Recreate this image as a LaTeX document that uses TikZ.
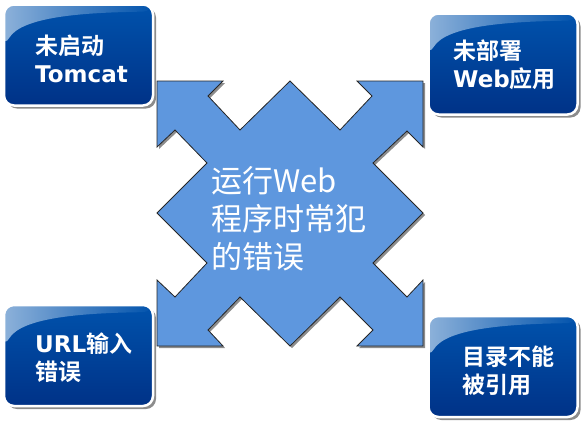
\documentclass[tikz,border=0pt]{standalone}
\usepackage{fontspec}
\newfontfamily\cjk[BoldFont={Noto Sans CJK SC Bold}]{Noto Sans CJK SC}
\newfontfamily\lat{DejaVu Sans}
\usetikzlibrary{shadows,calc}
\definecolor{boxtop}{RGB}{0,82,172}
\definecolor{boxbot}{RGB}{0,50,135}
\definecolor{arrowfill}{RGB}{94,151,222}
\tikzset{
  box/.style={rounded corners=10pt, top color=boxtop, bottom color=boxbot,
    draw=white, line width=2.5pt, minimum width=149pt, minimum height=101pt,
    inner sep=0pt,
    drop shadow={shadow xshift=3pt, shadow yshift=-3pt, fill=black!45, opacity=1},
    path picture={
      \shade[left color=white!55!boxtop, right color=boxtop]
        ($(path picture bounding box.north west)+(0,42)$)
        .. controls ($(path picture bounding box.north west)+(18,12)$)
        and ($(path picture bounding box.north west)+(80,8)$)
        .. ($(path picture bounding box.north east)+(0,7)$)
        -- (path picture bounding box.north east)
        -- (path picture bounding box.north west) -- cycle;
    }},
  boxtext/.style={anchor=west, text=white, align=left, inner sep=0pt,
    font=\fontsize{23pt}{28pt}\selectfont\bfseries},
  centertext/.style={anchor=west, text=white, align=left, inner sep=0pt,
    font=\cjk\fontsize{31pt}{38pt}\selectfont}
}
\begin{document}
\begin{tikzpicture}[x=1pt,y=-1pt]
\useasboundingbox (0,0) rectangle (585,424);
\def\arrowpath{(157,81) -- (223,81) -- (208,96) -- (240,130) -- (290,81) -- (340,130) -- (372,96) -- (357,81) -- (423,81) -- (423,147) -- (407,131) -- (373,163) -- (423,213) -- (373,263) -- (407,297) -- (423,280) -- (423,346) -- (357,346) -- (373,330) -- (340,297) -- (290,346) -- (240,297) -- (208,330) -- (223,346) -- (157,346) -- (157,280) -- (175,297) -- (207,263) -- (157,213) -- (207,163) -- (175,130) -- (157,147) -- cycle}
\begin{scope}[shift={(2,2)}]
\fill[black!45] \arrowpath;
\end{scope}
\filldraw[fill=arrowfill, draw=black!85, line width=0.8pt] \arrowpath;
\node[centertext] (c) at (211,219) {运行Web\\程序时常犯\\的错误};

\node[box] (b1) at (78.5,55) {};
\node[box] (b2) at (503,64) {};
\node[box] (b3) at (78.5,355.5) {};
\node[box] (b4) at (503,366.5) {};

\node[boxtext] (t1) at (35,59) {\cjk 未启动\\\lat Tomcat};
\node[boxtext] (t2) at (453,65) {\cjk 未部署\\\lat Web\cjk 应用};
\node[boxtext] (t3) at (35,358) {\lat URL\cjk 输入\\\cjk 错误};
\node[boxtext] (t4) at (462,371) {\cjk 目录不能\\\cjk 被引用};
\end{tikzpicture}
\end{document}
